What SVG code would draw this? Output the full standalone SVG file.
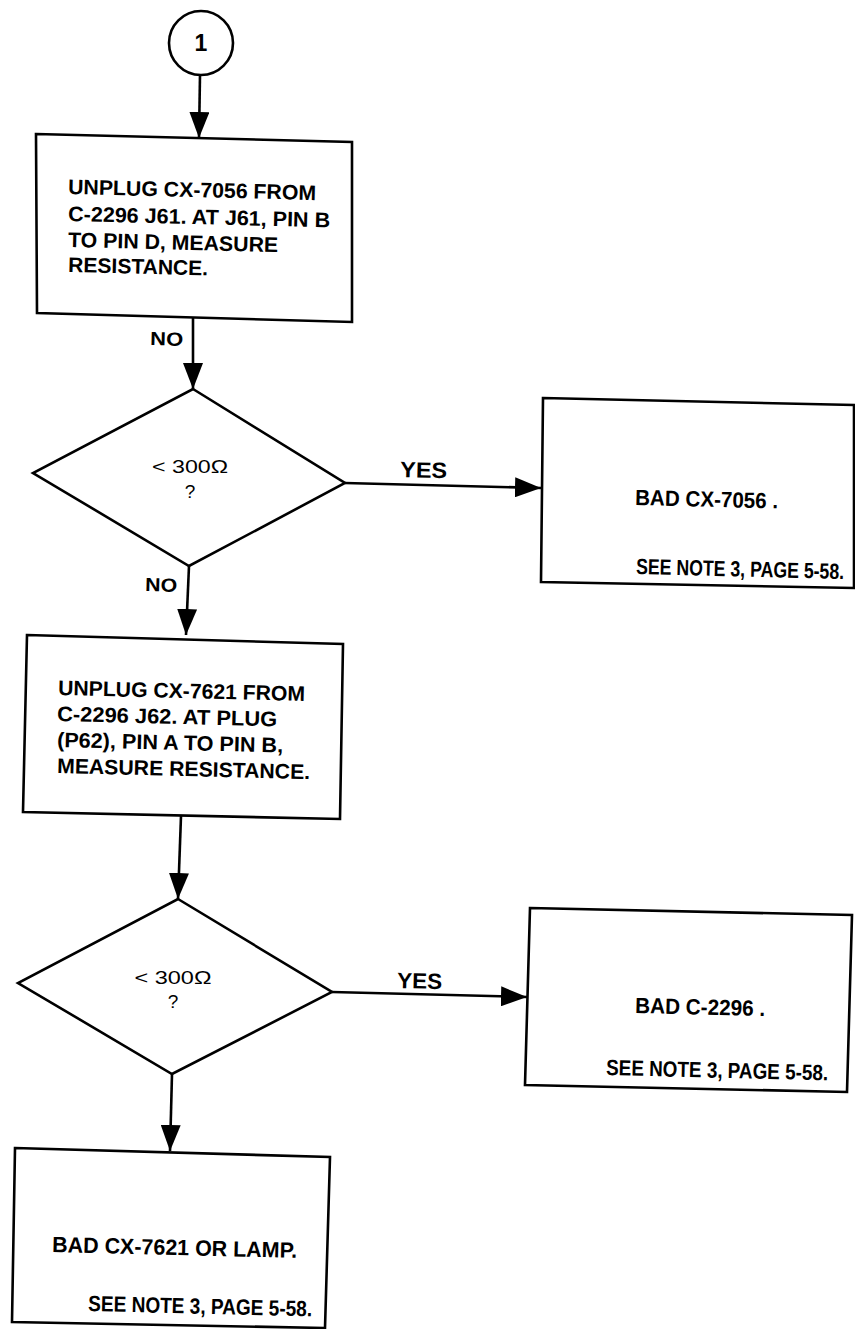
<svg xmlns="http://www.w3.org/2000/svg" width="855" height="1329" viewBox="0 0 855 1329">
<style>
.shape{fill:none;stroke:#000;stroke-width:2.6;stroke-linejoin:miter}
.conn{fill:none;stroke:#000;stroke-width:2.6}
.t{font-family:"Liberation Sans",Arial,sans-serif;font-weight:bold;fill:#000}
.b{font-size:21px}
.big{font-size:22px}
.note{font-size:18px}
.dq{font-family:"Liberation Sans",Arial,sans-serif;font-size:19px;fill:#000}
.lbl{font-family:"Liberation Sans",Arial,sans-serif;font-weight:bold;fill:#000}
</style>
<defs>
<marker id="ah" markerUnits="userSpaceOnUse" markerWidth="26" markerHeight="20" refX="26" refY="10" orient="auto" viewBox="0 0 26 20">
<path d="M0,0 L26,10 L0,20 z" fill="#000"/>
</marker>
</defs>
<rect width="855" height="1329" fill="#fff"/>

<g id="connectors">
<line class="conn" x1="200" y1="75" x2="199" y2="138" marker-end="url(#ah)"/>
<line class="conn" x1="193" y1="318" x2="193" y2="389" marker-end="url(#ah)"/>
<line class="conn" x1="345" y1="483" x2="541" y2="488" marker-end="url(#ah)"/>
<line class="conn" x1="189" y1="566" x2="186" y2="635" marker-end="url(#ah)"/>
<line class="conn" x1="181" y1="816" x2="178" y2="899" marker-end="url(#ah)"/>
<line class="conn" x1="332" y1="992" x2="527" y2="997" marker-end="url(#ah)"/>
<line class="conn" x1="172" y1="1074" x2="170" y2="1151" marker-end="url(#ah)"/>
<text class="lbl" x="150" y="345" font-size="19" textLength="33" lengthAdjust="spacingAndGlyphs" transform="rotate(1.4 150 345)">NO</text>
<text class="lbl" x="400" y="477" font-size="22" textLength="47" lengthAdjust="spacingAndGlyphs" transform="rotate(1.4 400 477)">YES</text>
<text class="lbl" x="145" y="591" font-size="19" textLength="32" lengthAdjust="spacingAndGlyphs" transform="rotate(1.4 145 591)">NO</text>
<text class="lbl" x="397" y="988" font-size="22" textLength="45" lengthAdjust="spacingAndGlyphs" transform="rotate(1.4 397 988)">YES</text>
</g>

<g id="start">
<circle class="shape" cx="201" cy="43" r="32" stroke-width="2.2"/>
<text class="t" x="201" y="51" font-size="23" text-anchor="middle">1</text>
</g>

<g id="step1">
<polygon class="shape" points="36,134 352,142 352,322 37,313"/>
<text class="t b" x="68" y="194" textLength="248" lengthAdjust="spacingAndGlyphs" transform="rotate(1.4 68 194)">UNPLUG CX-7056 FROM</text>
<text class="t b" x="68" y="221" textLength="262" lengthAdjust="spacingAndGlyphs" transform="rotate(1.4 68 221)">C-2296 J61.  AT J61, PIN B</text>
<text class="t b" x="68" y="247" textLength="210" lengthAdjust="spacingAndGlyphs" transform="rotate(1.4 68 247)">TO PIN D, MEASURE</text>
<text class="t b" x="68" y="272" textLength="140" lengthAdjust="spacingAndGlyphs" transform="rotate(1.4 68 272)">RESISTANCE.</text>
</g>

<g id="decision1">
<polygon class="shape" points="193,389 345,483 189,566 33,473"/>
<text class="dq" x="190" y="473" text-anchor="middle" textLength="76" lengthAdjust="spacingAndGlyphs">&lt; 300Ω</text>
<text class="dq" x="190" y="498" text-anchor="middle">?</text>
</g>

<g id="bad1">
<polygon class="shape" points="543,398 854,405 854,588 541,582"/>
<text class="t big" x="635" y="505" textLength="143" lengthAdjust="spacingAndGlyphs" transform="rotate(1.4 635 505)">BAD CX-7056 .</text>
<text class="t note" x="636" y="574" textLength="208" lengthAdjust="spacingAndGlyphs" transform="rotate(1.4 636 574) translate(636 574) scale(1 1.22) translate(-636 -574)">SEE NOTE 3, PAGE 5-58.</text>
</g>

<g id="step2">
<polygon class="shape" points="27,635 343,644 340,819 23,812"/>
<text class="t b" x="58" y="695" textLength="247" lengthAdjust="spacingAndGlyphs" transform="rotate(1.4 58 695)">UNPLUG CX-7621 FROM</text>
<text class="t b" x="57" y="721" textLength="220" lengthAdjust="spacingAndGlyphs" transform="rotate(1.4 57 721)">C-2296 J62.  AT PLUG</text>
<text class="t b" x="57" y="747" textLength="226" lengthAdjust="spacingAndGlyphs" transform="rotate(1.4 57 747)">(P62), PIN A TO PIN B,</text>
<text class="t b" x="57" y="773" textLength="253" lengthAdjust="spacingAndGlyphs" transform="rotate(1.4 57 773)">MEASURE RESISTANCE.</text>
</g>

<g id="decision2">
<polygon class="shape" points="178,899 332,992 172,1074 18,983"/>
<text class="dq" x="173" y="984" text-anchor="middle" textLength="77" lengthAdjust="spacingAndGlyphs">&lt; 300Ω</text>
<text class="dq" x="173" y="1008" text-anchor="middle">?</text>
</g>

<g id="bad2">
<polygon class="shape" points="530,908 852,915 847,1092 525,1085"/>
<text class="t big" x="635" y="1013" textLength="130" lengthAdjust="spacingAndGlyphs" transform="rotate(1.4 635 1013)">BAD C-2296 .</text>
<text class="t note" x="606" y="1075" textLength="222" lengthAdjust="spacingAndGlyphs" transform="rotate(1.4 606 1075) translate(606 1075) scale(1 1.22) translate(-606 -1075)">SEE NOTE 3, PAGE 5-58.</text>
</g>

<g id="bad3">
<polygon class="shape" points="15,1148 330,1157 325,1328 12,1322"/>
<text class="t big" x="52" y="1252" textLength="245" lengthAdjust="spacingAndGlyphs" transform="rotate(1.4 52 1252)">BAD CX-7621 OR LAMP.</text>
<text class="t note" x="88" y="1311" textLength="224" lengthAdjust="spacingAndGlyphs" transform="rotate(1.4 88 1311) translate(88 1311) scale(1 1.22) translate(-88 -1311)">SEE NOTE 3, PAGE 5-58.</text>
</g>
</svg>
